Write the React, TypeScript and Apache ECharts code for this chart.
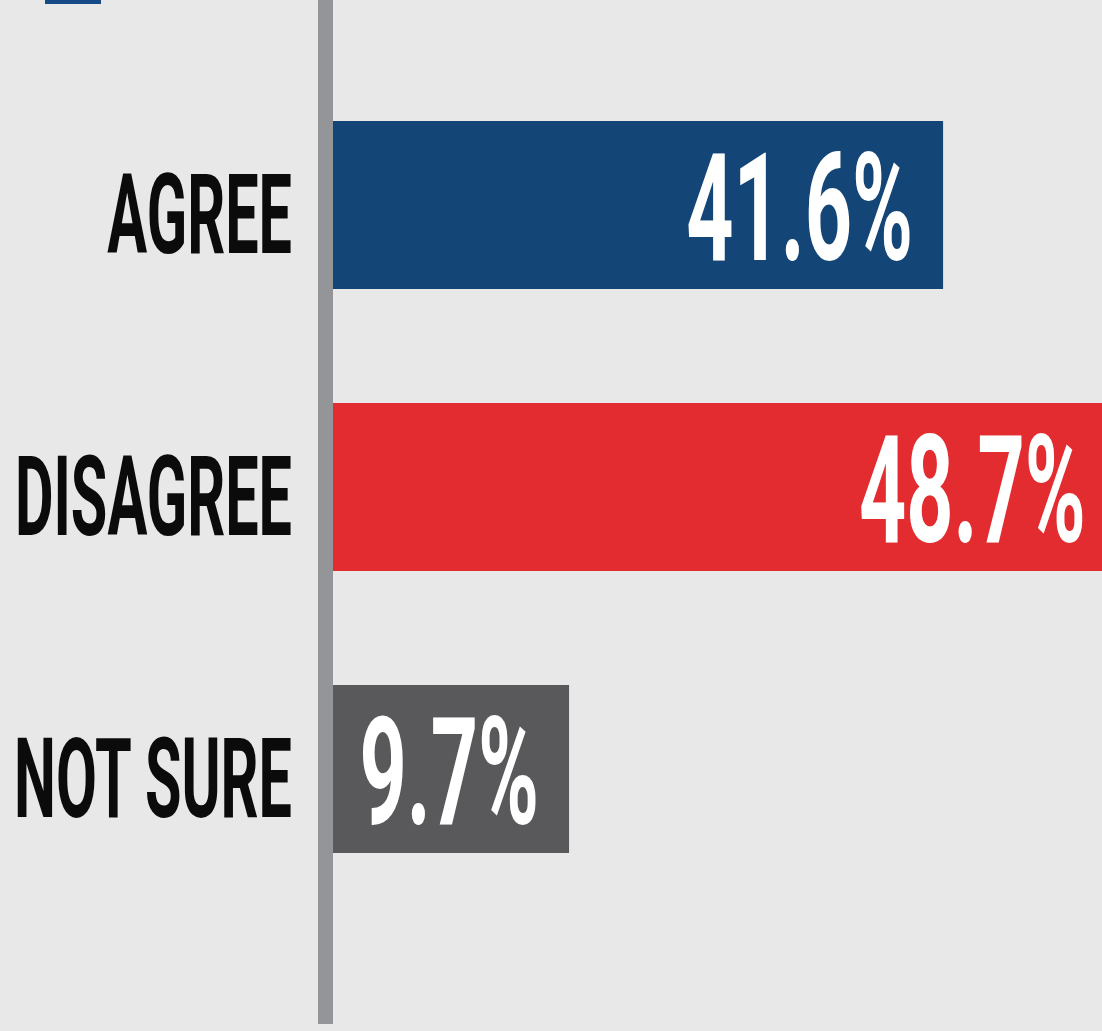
import React, { useEffect, useRef } from 'react';
import * as echarts from 'echarts';

const categories = ['AGREE', 'DISAGREE', 'NOT SURE'];
const values = [41.6, 48.7, 9.7];
const valueLabels = ['41.6%', '48.7%', '9.7%'];
const barColors = ['#134577', '#e22c2f', '#59595b'];

export default function App() {
  const ref = useRef<HTMLDivElement>(null);
  useEffect(() => {
    const chart = echarts.init(ref.current as HTMLDivElement, null, { renderer: 'svg' });
    const labelData = values.map((v, i) => [v, i]);
    chart.setOption({
      animation: false,
      backgroundColor: '#e8e8e8',
      grid: { left: 333, right: 0, top: 64, height: 846 },
      xAxis: {
        type: 'value',
        min: 0,
        max: 48.13,
        breaks: [{ start: 12, end: 28.53, gap: 0 }],
        breakArea: { show: false },
        show: false,
      },
      yAxis: {
        type: 'category',
        data: categories,
        inverse: true,
        show: false,
      },
      graphic: [
        { type: 'rect', shape: { x: 318, y: 0, width: 15, height: 1024 }, style: { fill: '#939598' }, z: 10 },
        { type: 'rect', shape: { x: 45, y: -2, width: 56, height: 6 }, style: { fill: '#154a86' }, z: 10 },
      ],
      series: [
        {
          type: 'bar',
          data: values.map((v, i) => ({ value: v, itemStyle: { color: barColors[i] } })),
          barWidth: 168,
          z: 2,
        },
        {
          type: 'custom',
          data: labelData,
          encode: { x: 0, y: 1 },
          clip: false,
          z: 5,
          renderItem: (params: any, api: any) => {
            const idx = params.dataIndex;
            const end = api.coord([api.value(0), idx]);
            const start = api.coord([0, idx]);
            return {
              type: 'group',
              children: [
                {
                  type: 'text',
                  x: end[0] - 30,
                  y: end[1] + 4,
                  scaleX: 0.55,
                  style: {
                    text: valueLabels[idx],
                    fill: '#ffffff',
                    fontFamily: 'Roboto',
                    fontWeight: 'bold',
                    fontSize: 150,
                    align: 'right',
                    verticalAlign: 'middle',
                    textAlign: 'right',
                    textVerticalAlign: 'middle',
                  },
                },
                {
                  type: 'text',
                  x: start[0] - 41,
                  y: start[1] + 10,
                  scaleX: 0.53,
                  style: {
                    text: categories[idx],
                    fill: '#0b0b0b',
                    fontFamily: 'Roboto',
                    fontWeight: 'bold',
                    fontSize: 112,
                    align: 'right',
                    verticalAlign: 'middle',
                    textAlign: 'right',
                    textVerticalAlign: 'middle',
                  },
                },
              ],
            };
          },
        },
      ],
    });
    return () => chart.dispose();
  }, []);
  return (
    <div
      ref={ref}
      style={{ position: 'fixed', left: 0, top: 0, width: 1102, height: 1031 }}
    />
  );
}
